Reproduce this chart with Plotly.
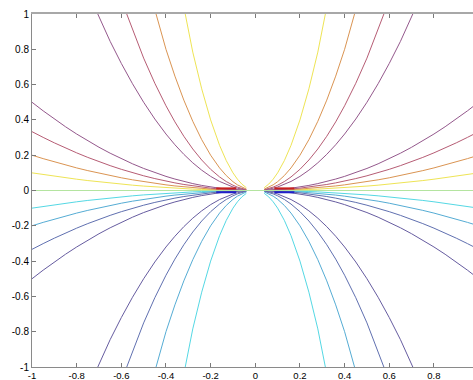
import plotly.graph_objects as go

# contour levels c for curves y = c * x^2
pos_levels = [0.1, 0.2, 1/3, 0.5, 2, 3, 5, 10]
neg_levels = [-0.1, -0.2, -1/3, -0.5, -2, -3, -5, -10]
pos_colors = ["#eee455", "#da9452", "#b65c74", "#94588c", "#94588c", "#b65c74", "#da9452", "#eee455"]
neg_colors = ["#55d8e4", "#55acd4", "#6070b0", "#665ca0", "#665ca0", "#6070b0", "#55acd4", "#55d8e4"]
zero_color = "#b4e4a0"

# grid of x sample positions (one side)
x_half = [0.04, 0.06, 0.08, 0.1, 0.13, 0.16, 0.2, 0.24, 0.28, 0.32, 0.36, 0.4, 0.45,
          0.5, 0.55, 0.6, 0.65, 0.7, 0.75, 0.8, 0.85, 0.9, 0.95, 1.0]

# short thick artefact segments near origin: (x_inner, x_outer, y, color)
artefacts = [(0.085, 0.175, 0.012, "#c82020"), (0.085, 0.175, -0.010, "#2020c8")]

fig = go.Figure()

def add_curve(c, col):
    for sgn in (-1, 1):
        xs = [sgn * v for v in x_half]
        ys = [c * v * v for v in x_half]
        fig.add_trace(go.Scatter(x=xs, y=ys, mode="lines",
                                 line=dict(color=col, width=1), hoverinfo="skip"))

for c, col in zip(pos_levels, pos_colors):
    add_curve(c, col)
for c, col in zip(neg_levels, neg_colors):
    add_curve(c, col)

fig.add_trace(go.Scatter(x=[-1, 1], y=[0, 0], mode="lines",
                         line=dict(color=zero_color, width=1), hoverinfo="skip"))

for a, b, yv, col in artefacts:
    for sgn in (-1, 1):
        fig.add_trace(go.Scatter(x=[sgn * a, sgn * b], y=[yv, yv], mode="lines",
                                 line=dict(color=col, width=2), hoverinfo="skip"))

xr = [-1, -1 + (473 - 32) / 223.3]

tickvals = [-1, -0.8, -0.6, -0.4, -0.2, 0, 0.2, 0.4, 0.6, 0.8, 1]
ticktext = ["-1", "-0.8", "-0.6", "-0.4", "-0.2", "0", "0.2", "0.4", "0.6", "0.8", "1"]

axis_font = dict(family="Liberation Sans, Arial, sans-serif", size=10, color="#000000")
xfont = dict(family="Liberation Sans, Arial, sans-serif", size=9.5, color="#000000")

fig.update_layout(
    width=473, height=380,
    margin=dict(l=32, r=0, t=14, b=13),
    paper_bgcolor="white", plot_bgcolor="white",
    showlegend=False,
    font=axis_font,
    xaxis=dict(range=xr, tickvals=tickvals, ticktext=ticktext,
               ticks="inside", ticklen=4, tickcolor="#7a7a7a",
               showline=True, linecolor="#8a8a8a", linewidth=1,
               showgrid=False, zeroline=False, automargin=False,
               ticklabelstandoff=0, tickfont=xfont),
    xaxis2=dict(range=xr, overlaying="x", side="top", anchor="y",
                tickvals=tickvals, showticklabels=False,
                ticks="inside", ticklen=4, tickcolor="#7a7a7a",
                showline=True, linecolor="#a8a8a8", linewidth=2,
                showgrid=False, zeroline=False, automargin=False),
    yaxis=dict(range=[-1, 1], tickvals=tickvals, ticktext=ticktext,
               ticks="inside", ticklen=4, tickcolor="#7a7a7a",
               showline=True, linecolor="#8a8a8a", linewidth=1,
               showgrid=False, zeroline=False, automargin=False,
               tickfont=axis_font),
)
# dummy trace to activate xaxis2
fig.add_trace(go.Scatter(x=[None], y=[None], xaxis="x2", mode="lines", hoverinfo="skip"))

fig.write_html("out.html")
